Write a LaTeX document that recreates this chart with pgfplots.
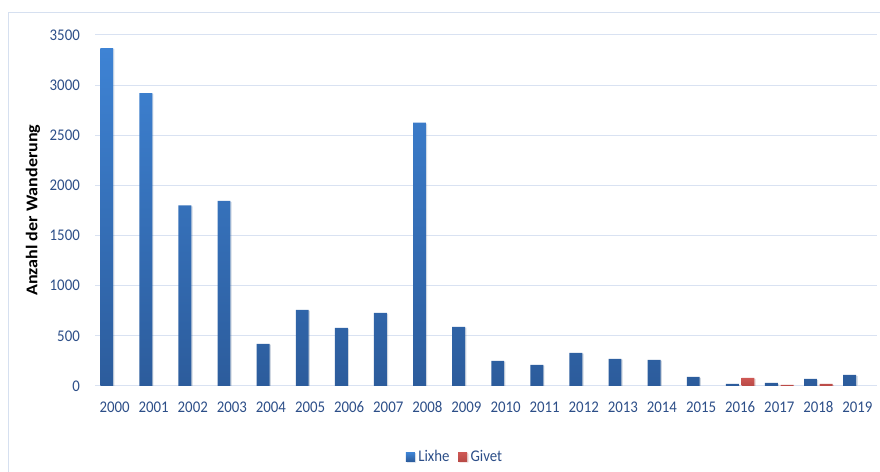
\documentclass[border=0pt]{standalone}
\usepackage{pgfplots}
\pgfplotsset{compat=1.18}
\usepackage{fontspec}
\setmainfont{Carlito}[FakeStretch=0.91]
\newfontfamily\titlefont{Carlito}[FakeStretch=1.1]
\usetikzlibrary{shadows}

\definecolor{tickblue}{RGB}{44,78,136}
\definecolor{gridc}{RGB}{217,226,242}
\definecolor{framec}{RGB}{214,224,240}
\definecolor{lixtop}{RGB}{62,131,212}
\definecolor{lixbot}{RGB}{44,92,156}
\definecolor{givtop}{RGB}{206,88,84}
\definecolor{givbot}{RGB}{184,73,70}

\newcommand{\ticksize}{\fontsize{16.3bp}{18bp}\selectfont}

\begin{document}
\begin{tikzpicture}[x=1bp,y=1bp]
\path[use as bounding box] (0,0) rectangle (880,472);
% chart area border (left and top edges only)
\draw[framec, line width=1bp] (8.5,0) -- (8.5,459.5) -- (880,459.5);
\begin{axis}[
  at={(95bp,86bp)}, anchor=south west,
  scale only axis, width=782bp, height=351bp,
  xmin=-0.5, xmax=19.5, ymin=0, ymax=3500,
  ybar, bar width=0.33,
  axis lines*=left,
  y axis line style={draw=none},
  x axis line style={draw=gridc, line width=1bp},
  ymajorgrids, grid style={gridc, line width=1bp},
  major tick length=0pt, tick style={draw=none},
  xtick={0,1,2,3,4,5,6,7,8,9,10,11,12,13,14,15,16,17,18,19},
  xticklabels={2000,2001,2002,2003,2004,2005,2006,2007,2008,2009,2010,2011,2012,2013,2014,2015,2016,2017,2018,2019},
  ytick={0,500,1000,1500,2000,2500,3000,3500},
  yticklabels={0,500,1000,1500,2000,2500,3000,3500},
  xticklabel style={font=\ticksize, text=tickblue, anchor=base, inner sep=0pt, yshift=-26.3bp},
  yticklabel style={font=\ticksize, text=tickblue, anchor=east, inner sep=0pt, xshift=-15bp},
  ylabel={Anzahl der Wanderung},
  ylabel style={font=\titlefont\bfseries\fontsize{16.4bp}{18bp}\selectfont, text=black,
    at={(axis description cs:-0.0793,0.501)}, anchor=center},
  legend style={draw=none, fill=none, at={(axis description cs:0.46,-0.2023)}, anchor=center,
    legend columns=2, font=\ticksize, text=tickblue,
    /tikz/every even column/.append style={column sep=7bp},
    nodes={inner sep=1.5bp}},
  legend image code/.code={\fill[#1] (0bp,-4.5bp) rectangle (9bp,4.5bp);
    \path (11bp,0bp);},
]
\addplot[bar shift=-0.2, draw=none, top color=lixtop, bottom color=lixbot,
  drop shadow={shadow xshift=1.2bp, shadow yshift=-0.8bp, opacity=0.15}]
  coordinates {(0,3370) (1,2920) (2,1800) (3,1845) (4,420) (5,760) (6,580) (7,730)
    (8,2625) (9,590) (10,250) (11,210) (12,330) (13,270) (14,260) (15,90)
    (16,20) (17,30) (18,70) (19,110)};
\addlegendentry{Lixhe}
\addplot[bar shift=0.2, draw=none, top color=givtop, bottom color=givbot,
  drop shadow={shadow xshift=1.2bp, shadow yshift=-0.8bp, opacity=0.15}]
  coordinates {(16,80) (17,10) (18,20)};
\addlegendentry{Givet}
\end{axis}
\end{tikzpicture}
\end{document}
